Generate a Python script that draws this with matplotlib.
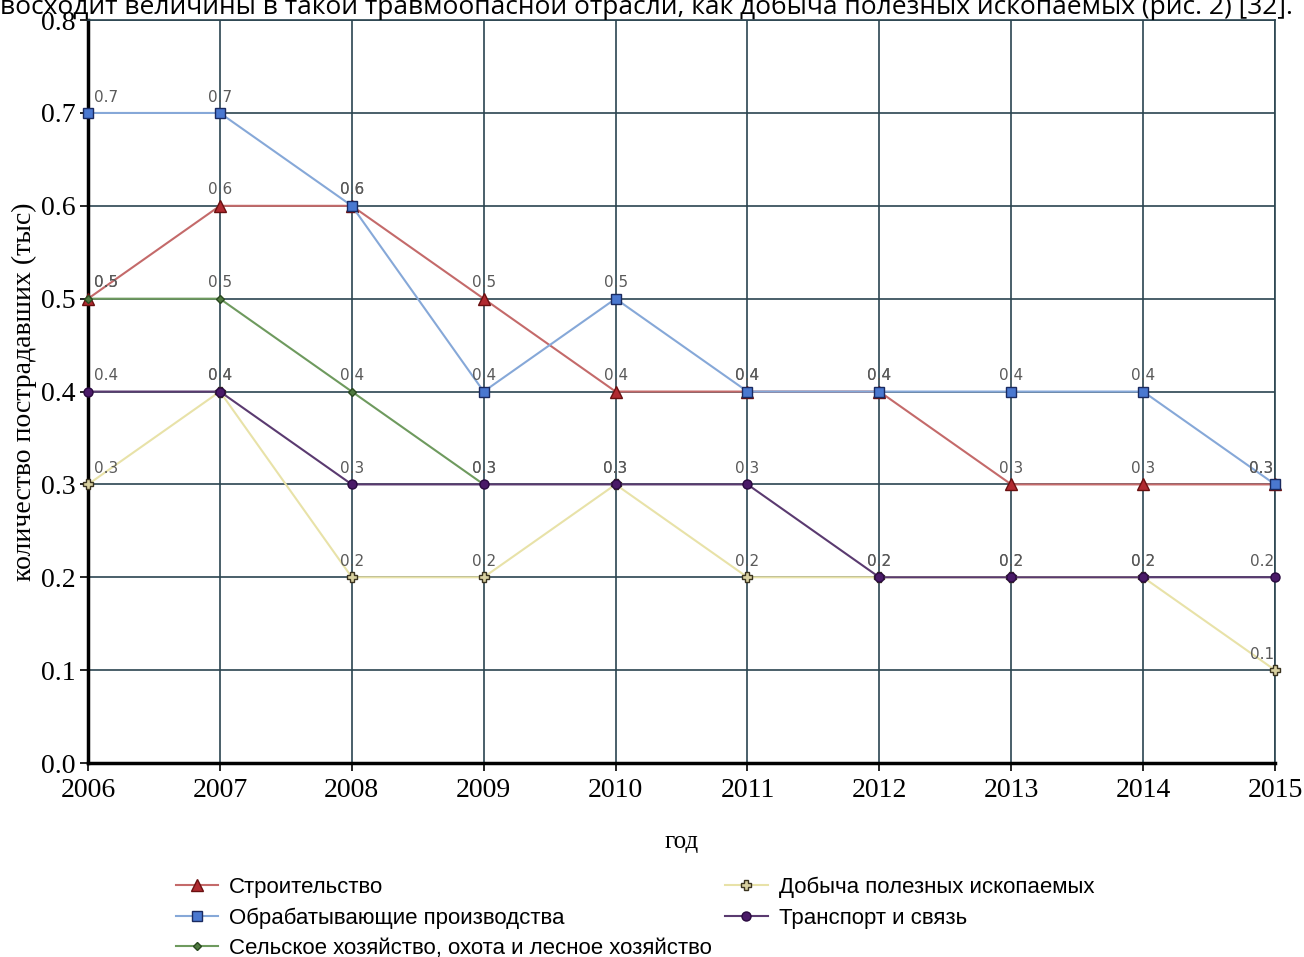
import numpy as np
import matplotlib.pyplot as plt

years = [2006, 2007, 2008, 2009, 2010, 2011, 2012, 2013, 2014, 2015]

stroit = [0.5, 0.6, 0.6, 0.5, 0.4, 0.4, 0.4, 0.3, 0.3, 0.3]
obrab = [0.7, 0.7, 0.6, 0.4, 0.5, 0.4, 0.4, 0.4, 0.4, 0.3]
selsk = [0.5, 0.5, 0.4, 0.3]
dobycha = [0.3, 0.4, 0.2, 0.2, 0.3, 0.2, 0.2, 0.2, 0.2, 0.1]
transp = [0.4, 0.4, 0.3, 0.3, 0.3, 0.3, 0.2, 0.2, 0.2, 0.2]

names = ["Строительство", "Обрабатывающие производства",
         "Сельское хозяйство, охота и лесное хозяйство",
         "Добыча полезных ископаемых", "Транспорт и связь"]

fig = plt.figure(figsize=(13.04, 9.57), dpi=100)
ax = fig.add_axes([0.0675, 0.2027, 0.9103, 0.7763])

# series: values, line colour, marker, marker face, marker edge, size
series = [
    (stroit, '#c46a6a', '^', '#b02a30', '#6a1010', 8.5),
    (obrab, '#86a8d8', 's', '#4a78d0', '#1a2a60', 7),
    (selsk, '#6e9a5e', 'D', '#4f7a40', '#2a4a20', 4),
    (dobycha, '#e8e2a8', 'P', '#d8d0a0', '#3a3320', 7),
    (transp, '#5a3a70', 'o', '#4a1a68', '#2a0a40', 6.5),
]

for (vals, lc, mk, mf, me, ms), name in zip(series, names):
    xs = years[:len(vals)]
    ax.plot(xs, vals, color=lc, lw=1.5, marker=mk, markersize=ms,
            markerfacecolor=mf, markeredgecolor=me, markeredgewidth=1,
            label=name, clip_on=False, zorder=3)
    for x, v in zip(xs, vals):
        if x == years[0]:
            ha, dx = 'left', 4
        elif x == years[-1]:
            ha, dx = 'right', -1
        else:
            ha, dx = 'center', 0
        ax.annotate("%.1f" % v, (x, v), xytext=(dx, 6), textcoords='offset points',
                    ha=ha, va='bottom', fontsize=11, color='#5a5a5a',
                    family='DejaVu Sans', zorder=4)

ax.set_xlim(2006, 2015)
ax.set_ylim(0, 0.8)
ax.set_xticks(years)
ax.set_yticks(np.arange(0, 0.81, 0.1))
ax.set_yticklabels(["%.1f" % t for t in np.arange(0, 0.81, 0.1)])
ax.grid(True, color='#2b4450', lw=1.2)
ax.set_axisbelow(True)

for s in ['top', 'right']:
    ax.spines[s].set_color('#2b4450')
    ax.spines[s].set_linewidth(1.2)
for s in ['left', 'bottom']:
    ax.spines[s].set_color('black')
    ax.spines[s].set_linewidth(2.5)

ax.tick_params(direction='out', length=6, width=1.2, labelsize=20)
ax.tick_params(axis='x', pad=5)
ax.tick_params(axis='y', pad=3)
for lab in ax.get_xticklabels() + ax.get_yticklabels():
    lab.set_family('Liberation Serif')

ax.set_xlabel("год", fontsize=18, family='Liberation Serif', labelpad=20)
ax.set_ylabel("количество пострадавших (тыс)", fontsize=20,
              family='Liberation Serif', labelpad=3)

leg = fig.legend(loc='upper left', bbox_to_anchor=(0.128, 0.093), ncol=2,
                 frameon=False, prop={'family': 'Liberation Sans', 'size': 16},
                 handlelength=1.9, handletextpad=0.5, columnspacing=0.6,
                 labelspacing=0.42, borderaxespad=0)

fig.text(0.0, 1 - 14 / 957,
         "восходит величины в такой травмоопасной отрасли, как добыча полезных ископаемых (рис. 2) [32].",
         fontsize=19, family='Open Sans', va='baseline', ha='left')

fig.savefig("out.png", dpi=100)
